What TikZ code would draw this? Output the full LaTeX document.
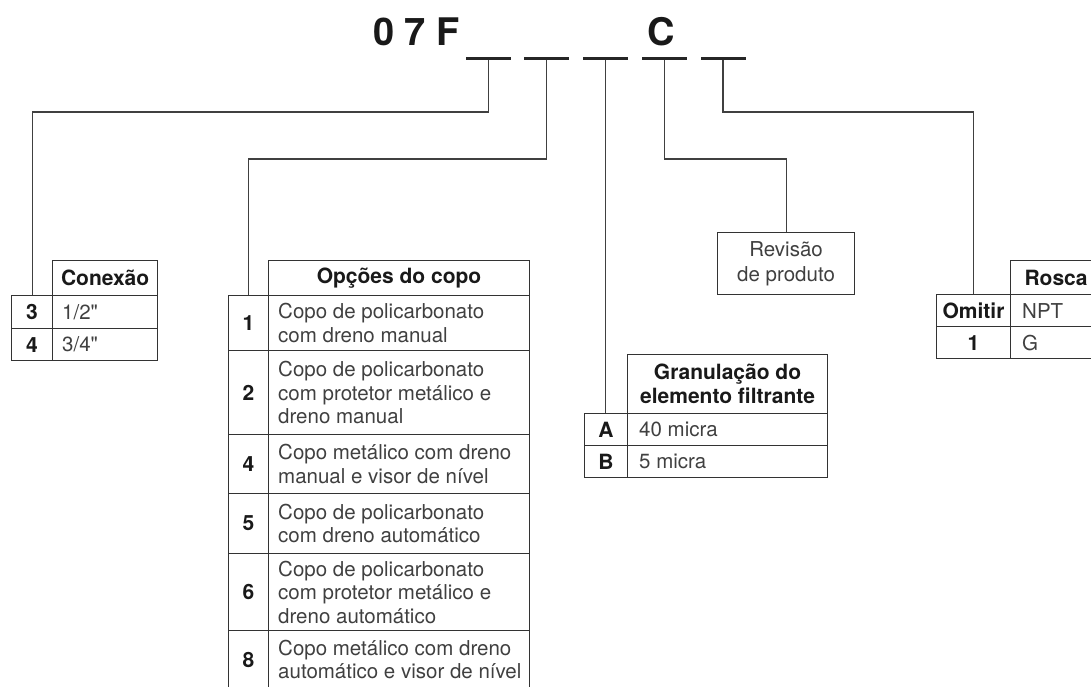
\documentclass[tikz,border=0pt]{standalone}
\usepackage{fontspec}
\setmainfont{TeX Gyre Heros}
\newfontfamily\bodyfont{TeX Gyre Heros}
\usetikzlibrary{calc}
\tikzset{
  ln/.style={draw=black!80, line width=1.1pt},
  conn/.style={draw=black!75, line width=1.1pt},
  bar/.style={fill=black!85, minimum width=45pt, minimum height=3pt, inner sep=0pt, draw=none},
  box/.style={ln, anchor=north west, inner sep=0pt},
  numtxt/.style={font=\fontsize{21}{24}\selectfont\bfseries, text=black!90},
  hdtxt/.style={font=\fontsize{21}{23.5}\selectfont\bfseries, text=black!90, align=center},
  bodytxt/.style={font=\bodyfont\fontsize{20.5}{23.5}\selectfont, text=black!75, align=left, inner sep=0pt, anchor=west},
  titletxt/.style={inner sep=0pt, font=\fontsize{38}{40}\selectfont\bfseries, text=black!90},
}
\def\txo{10}
\newcommand\tabrow[8]{% name, numx, numw, descw, y, h, num, text
  \node[box, numtxt, minimum width=#3pt, minimum height=#6pt] (#1n) at (#2,#5) {#7};
  \node[box, minimum width=#4pt, minimum height=#6pt] (#1) at ($(#2,#5)+(#3,0)$) {};
  \node[bodytxt] (#1t) at ([xshift=\txo pt]#1.west) {#8};
}
\begin{document}
\begin{tikzpicture}[x=1pt,y=-1pt]
\useasboundingbox (0,0) rectangle (1091,686);
\clip (0,0) rectangle (1091,686);

% code
\node[titletxt, anchor=base west] (code) at (373,45) {0 7 F};
\node[titletxt, anchor=base] (cc) at (661,45) {C};

\node[bar] (s1) at (488.5,58) {};
\node[bar] (s2) at (546.5,58) {};
\node[bar] (s3) at (605.5,58) {};
\node[bar] (s4) at (664.5,58) {};
\node[bar] (s5) at (723,58) {};

\coordinate (h1) at (0,112);
\coordinate (h2) at (0,159);

% Conexao
\node[box, hdtxt, minimum width=105pt, minimum height=35pt] (conh) at (52,260) {Conexão};
\tabrow{c3}{11}{41}{105}{295}{33}{3}{1/2"}
\tabrow{c4}{11}{41}{105}{328}{32}{4}{3/4"}

% Opcoes do copo
\node[box, hdtxt, minimum width=261pt, minimum height=35pt] (oph) at (268,260) {Opções do copo};
\tabrow{o1}{228}{40}{261}{295}{55}{1}{Copo de policarbonato\\com dreno manual}
\tabrow{o2}{228}{40}{261}{350}{84}{2}{Copo de policarbonato\\com protetor metálico e\\dreno manual}
\tabrow{o4}{228}{40}{261}{434}{59}{4}{Copo metálico com dreno\\manual e visor de nível}
\tabrow{o5}{228}{40}{261}{493}{60}{5}{Copo de policarbonato\\com dreno automático}
\tabrow{o6}{228}{40}{261}{553}{77}{6}{Copo de policarbonato\\com protetor metálico e\\dreno automático}
\tabrow{o8}{228}{40}{261}{630}{58}{8}{Copo metálico com dreno\\automático e visor de nível}

% Revisao
\node[box, minimum width=137pt, minimum height=62pt, align=center, font=\bodyfont\fontsize{20.5}{25}\selectfont, text=black!75] (rev) at (717,232) {Revisão\\de produto};

% Granulacao
\def\txo{12}
\node[box, hdtxt, minimum width=200pt, minimum height=59pt] (grh) at (627,354) {Granulação do\\elemento filtrante};
\tabrow{gA}{584}{43}{200}{413}{32}{A}{40 micra}
\tabrow{gB}{584}{43}{200}{445}{32}{B}{5 micra}

% Rosca
\node[box, hdtxt, minimum width=91pt, minimum height=34pt] (roh) at (1010,260) {Rosca};
\tabrow{r1}{936}{74}{91}{294}{32}{Omitir}{NPT}
\tabrow{r2}{936}{74}{91}{326}{32}{1}{G}

% connectors
\draw[conn] (s1.south) -- (s1.south |- h1) -| (c3n.north);
\draw[conn] (s2.south) -- (s2.south |- h2) -| (o1n.north);
\draw[conn] (s3.south) -- (s3.south |- gAn.north);
\draw[conn] (s4.south) -- (s4.south |- h2) -| (rev.north);
\draw[conn] (s5.south) -- (s5.south |- h1) -| (r1n.north);
\end{tikzpicture}
\end{document}
